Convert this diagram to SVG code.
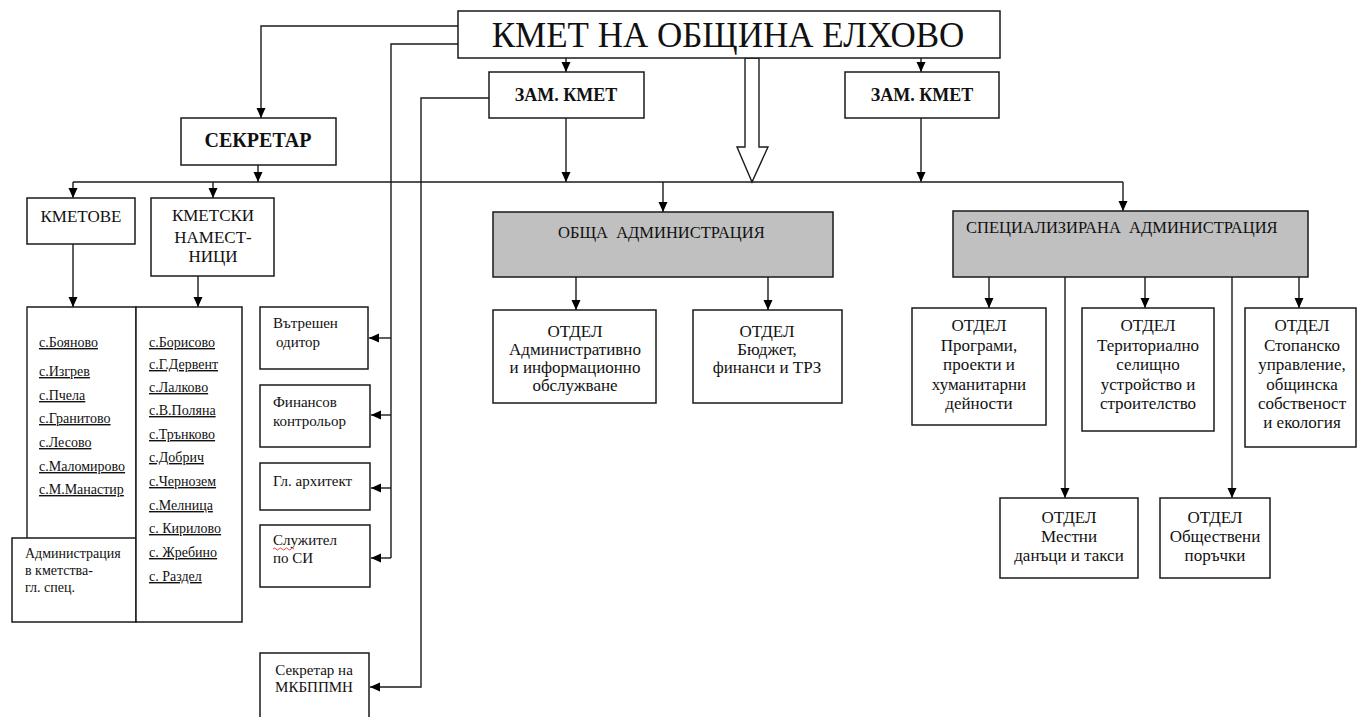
<svg xmlns="http://www.w3.org/2000/svg" width="1359" height="717" viewBox="0 0 1359 717">
<defs>
<marker id="ah" markerUnits="userSpaceOnUse" markerWidth="10" markerHeight="10" refX="10" refY="5" orient="auto">
<path d="M0,0.5 L10,5 L0,9.5 z" fill="#000"/>
</marker>
<style>
.box{fill:#fff;stroke:#1a1a1a;stroke-width:1.5}
.gray{fill:#c0c0c0;stroke:#1a1a1a;stroke-width:1.5}
.ln{fill:none;stroke:#1a1a1a;stroke-width:1.4}
.ar{fill:none;stroke:#1a1a1a;stroke-width:1.4;marker-end:url(#ah)}
text{font-family:"Liberation Serif","DejaVu Serif",serif;fill:#111}
.c{text-anchor:middle}
.t16{font-size:16.5px}
.t17{font-size:17px}
.t15{font-size:15px}
.li{font-size:14px;text-decoration:underline}
.b{font-weight:bold}
</style>
</defs>
<rect width="1359" height="717" fill="#fff"/>

<g id="connectors">
<path class="ar" d="M458,26 H261 V118"/>
<path class="ln" d="M458,44 H391 V558"/>
<path class="ar" d="M391,338 H369"/>
<path class="ar" d="M391,415 H371"/>
<path class="ar" d="M391,488 H371"/>
<path class="ar" d="M391,558 H371"/>
<path class="ar" d="M566,58 V72"/>
<path class="ar" d="M921,58 V72"/>
<path class="ar" d="M489,98 H421 V687 H370"/>
<path class="ar" d="M566,118 V182"/>
<path class="ar" d="M921,118 V182"/>
<path class="ar" d="M258,165 V182"/>
<path class="ln" d="M73,182 H1123"/>
<path class="ar" d="M73,182 V198"/>
<path class="ar" d="M213,182 V198"/>
<path class="ar" d="M663,182 V212"/>
<path class="ar" d="M1123,182 V211"/>
<path class="ar" d="M73,244 V307"/>
<path class="ar" d="M198,276 V307"/>
<path class="ar" d="M576,277 V310"/>
<path class="ar" d="M768,277 V310"/>
<path class="ar" d="M989,277 V308"/>
<path class="ar" d="M1145,277 V308"/>
<path class="ar" d="M1299,277 V308"/>
<path class="ar" d="M1065,277 V498"/>
<path class="ar" d="M1232,277 V498"/>
<polygon points="745,58 759,58 759,147 768,147 752,182 737,147 745,147" fill="#fff" stroke="#1a1a1a" stroke-width="1.4"/>
</g>

<g id="mayor">
<rect class="box" x="458" y="11" width="542" height="47"/>
<text class="c" x="728" y="47" font-size="35">КМЕТ НА ОБЩИНА ЕЛХОВО</text>
</g>

<g id="deputy1">
<rect class="box" x="489" y="72" width="155" height="46"/>
<text class="c b" x="566" y="101" font-size="18">ЗАМ. КМЕТ</text>
</g>

<g id="deputy2">
<rect class="box" x="845" y="72" width="154" height="46"/>
<text class="c b" x="922" y="101" font-size="18">ЗАМ. КМЕТ</text>
</g>

<g id="secretary">
<rect class="box" x="181" y="118" width="155" height="47"/>
<text class="c b" x="258" y="147" font-size="20">СЕКРЕТАР</text>
</g>

<g id="kmetove">
<rect class="box" x="27" y="198" width="108" height="46"/>
<text class="c t17" x="81" y="222">КМЕТОВЕ</text>
</g>

<g id="kmetski">
<rect class="box" x="151" y="198" width="123" height="78"/>
<text class="c t17" x="213" y="221">КМЕТСКИ</text>
<text class="c t17" x="213" y="243">НАМЕСТ-</text>
<text class="c t17" x="213" y="262">НИЦИ</text>
</g>

<g id="list-kmetove">
<path class="ln" d="M27,538 V307 H136 V538"/>
<text class="li" x="39" y="347">с.Бояново</text>
<text class="li" x="39" y="376">с.Изгрев</text>
<text class="li" x="39" y="400">с.Пчела</text>
<text class="li" x="39" y="423">с.Гранитово</text>
<text class="li" x="39" y="447">с.Лесово</text>
<text class="li" x="39" y="471">с.Маломирово</text>
<text class="li" x="39" y="494">с.М.Манастир</text>
</g>

<g id="admin-kmetstva">
<rect class="box" x="12" y="538" width="124" height="84"/>
<text x="25" y="558" font-size="14">Администрация</text>
<text x="25" y="575" font-size="14">в кметства-</text>
<text x="25" y="592" font-size="14">гл. спец.</text>
</g>

<g id="list-namestnici">
<rect class="box" x="136" y="307" width="106" height="315"/>
<text class="li" x="149" y="347">с.Борисово</text>
<text class="li" x="149" y="369">с.Г.Дервент</text>
<text class="li" x="149" y="392">с.Лалково</text>
<text class="li" x="149" y="415">с.В.Поляна</text>
<text class="li" x="149" y="439">с.Трънково</text>
<text class="li" x="149" y="462">с.Добрич</text>
<text class="li" x="149" y="486">с.Чернозем</text>
<text class="li" x="149" y="510">с.Мелница</text>
<text class="li" x="149" y="533">с. Кирилово</text>
<text class="li" x="149" y="557">с. Жребино</text>
<text class="li" x="149" y="581">с. Раздел</text>
</g>

<g id="auditor">
<rect class="box" x="260" y="307" width="108" height="62"/>
<text class="t15" x="273" y="328">Вътрешен</text>
<text class="t15" x="276" y="347">одитор</text>
</g>

<g id="fin-controller">
<rect class="box" x="260" y="385" width="110" height="62"/>
<text class="t15" x="273" y="407">Финансов</text>
<text class="t15" x="273" y="426">контрольор</text>
</g>

<g id="architect">
<rect class="box" x="260" y="463" width="110" height="47"/>
<text class="t15" x="273" y="486">Гл. архитект</text>
</g>

<g id="si-officer">
<rect class="box" x="260" y="525" width="110" height="62"/>
<text class="t15" x="273" y="545">Служител</text>
<path d="M273,549 q1.5,-2 3,0 t3,0 t3,0 t3,0 t3,0 t3,0 t3,0" fill="none" stroke="#d33" stroke-width="0.9"/>
<text class="t15" x="273" y="563">по СИ</text>
</g>

<g id="mkbppmn">
<rect class="box" x="260" y="653" width="109" height="70"/>
<text class="c t15" x="314" y="675">Секретар на</text>
<text class="c t15" x="314" y="692">МКБППМН</text>
</g>

<g id="general-admin">
<rect class="gray" x="493" y="212" width="340" height="65"/>
<text class="t16" x="558" y="238" xml:space="preserve">ОБЩА  АДМИНИСТРАЦИЯ</text>
</g>

<g id="dept-admin">
<rect class="box" x="493" y="310" width="163" height="93"/>
<text class="c t17" x="575" y="337">ОТДЕЛ</text>
<text class="c t17" x="575" y="355">Административно</text>
<text class="c t17" x="575" y="373">и информационно</text>
<text class="c t17" x="575" y="391">обслужване</text>
</g>

<g id="dept-budget">
<rect class="box" x="693" y="310" width="149" height="93"/>
<text class="c t17" x="767" y="337">ОТДЕЛ</text>
<text class="c t17" x="767" y="355">Бюджет,</text>
<text class="c t17" x="767" y="373">финанси и ТРЗ</text>
</g>

<g id="special-admin">
<rect class="gray" x="953" y="211" width="355" height="66"/>
<text class="t16" x="966" y="233" xml:space="preserve">СПЕЦИАЛИЗИРАНА  АДМИНИСТРАЦИЯ</text>
</g>

<g id="dept-programs">
<rect class="box" x="912" y="308" width="134" height="117"/>
<text class="c t17" x="979" y="331">ОТДЕЛ</text>
<text class="c t17" x="979" y="351">Програми,</text>
<text class="c t17" x="979" y="370">проекти и</text>
<text class="c t17" x="979" y="390">хуманитарни</text>
<text class="c t17" x="979" y="409">дейности</text>
</g>

<g id="dept-territorial">
<rect class="box" x="1082" y="308" width="132" height="123"/>
<text class="c t17" x="1148" y="331">ОТДЕЛ</text>
<text class="c t17" x="1148" y="351">Териториално</text>
<text class="c t17" x="1148" y="370">селищно</text>
<text class="c t17" x="1148" y="390">устройство и</text>
<text class="c t17" x="1148" y="409">строителство</text>
</g>

<g id="dept-economic">
<rect class="box" x="1245" y="308" width="111" height="139"/>
<text class="c t17" x="1302" y="331">ОТДЕЛ</text>
<text class="c t17" x="1302" y="351">Стопанско</text>
<text class="c t17" x="1302" y="370">управление,</text>
<text class="c t17" x="1302" y="390">общинска</text>
<text class="c t17" x="1302" y="409">собственост</text>
<text class="c t17" x="1302" y="428">и екология</text>
</g>

<g id="dept-taxes">
<rect class="box" x="1000" y="498" width="138" height="80"/>
<text class="c t17" x="1069" y="523">ОТДЕЛ</text>
<text class="c t17" x="1069" y="542">Местни</text>
<text class="c t17" x="1069" y="561">данъци и такси</text>
</g>

<g id="dept-procurement">
<rect class="box" x="1160" y="498" width="110" height="80"/>
<text class="c t17" x="1215" y="523">ОТДЕЛ</text>
<text class="c t17" x="1215" y="542">Обществени</text>
<text class="c t17" x="1215" y="561">поръчки</text>
</g>
</svg>
